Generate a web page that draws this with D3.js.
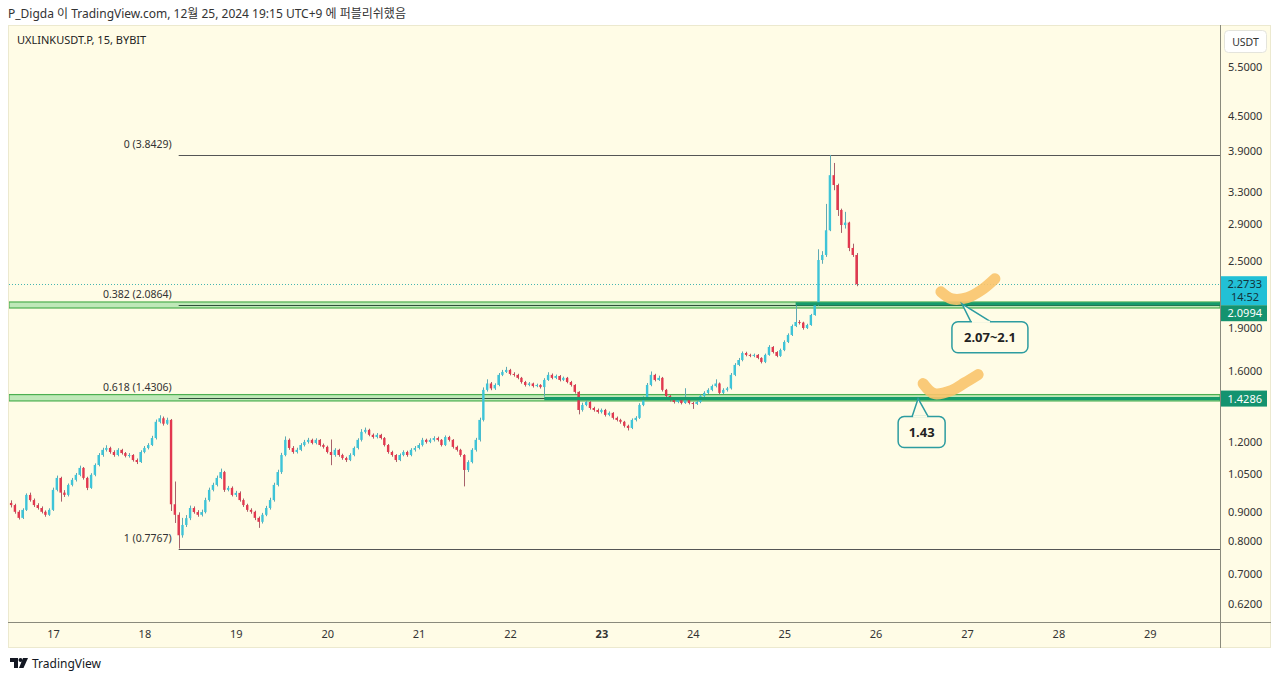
<!DOCTYPE html>
<html><head><meta charset="utf-8">
<script src="https://cdn.jsdelivr.net/npm/d3@7"></script>
<style>
body{margin:0;background:#fff;}
svg{display:block;font-family:"Noto Sans","Noto Sans CJK KR",sans-serif;}
</style>
</head><body>
<svg id="c" width="1280" height="681"></svg>
<script>
// ---------------- DATA ----------------
const startTime = Date.UTC(2024, 11, 16, 13); // first hourly candle
const firstOpen = 0.935;
const closes = [
0.927,0.902,0.880,0.909,0.966,0.946,0.927,0.916,0.902,0.891,
0.909,0.986,1.035,0.975,0.966,1.006,1.027,1.048,1.078,1.035,
0.994,1.048,1.091,1.136,1.160,1.169,1.150,1.136,1.160,1.145,
1.132,1.136,1.113,1.104,1.150,1.169,1.183,1.217,1.300,1.319,
1.290,1.310,0.930,0.891,0.820,0.855,0.879,0.916,0.901,0.891,
0.901,0.946,0.986,1.006,1.035,1.060,0.986,0.994,0.966,0.974,
0.946,0.927,0.909,0.902,0.880,0.866,0.891,0.916,0.946,1.006,
1.060,1.136,1.208,1.169,1.150,1.160,1.183,1.198,1.208,1.193,
1.208,1.183,1.174,1.150,1.136,1.160,1.136,1.122,1.113,1.136,
1.169,1.208,1.248,1.258,1.233,1.222,1.233,1.217,1.183,1.150,
1.136,1.113,1.136,1.150,1.136,1.160,1.169,1.183,1.208,1.198,
1.208,1.217,1.208,1.183,1.222,1.208,1.174,1.160,1.136,1.069,
1.104,1.160,1.208,1.310,1.480,1.519,1.489,1.510,1.573,1.592,
1.605,1.579,1.573,1.554,1.528,1.510,1.519,1.503,1.510,1.497,
1.541,1.573,1.554,1.566,1.541,1.554,1.528,1.510,1.468,1.364,
1.392,1.409,1.375,1.364,1.353,1.364,1.337,1.348,1.321,1.310,
1.300,1.279,1.268,1.310,1.321,1.392,1.432,1.510,1.573,1.541,
1.554,1.480,1.444,1.421,1.409,1.421,1.403,1.421,1.403,1.398,
1.409,1.444,1.462,1.480,1.503,1.519,1.462,1.480,1.489,1.573,
1.638,1.671,1.719,1.706,1.699,1.706,1.685,1.658,1.706,1.762,
1.726,1.699,1.740,1.798,1.850,1.918,1.950,1.945,1.903,1.926,
2.006,2.089,2.508,2.560,2.830,3.540,3.401,3.073,2.891,2.920,
2.634,2.560,2.2733];
const highs = [
0.945,0.932,0.908,0.915,0.972,0.975,0.952,0.934,0.922,0.907,
0.915,0.995,1.045,1.040,0.985,1.012,1.035,1.056,1.088,1.082,
1.040,1.055,1.098,1.145,1.170,1.182,1.175,1.158,1.168,1.165,
1.150,1.145,1.140,1.120,1.158,1.178,1.192,1.228,1.312,1.335,
1.328,1.322,1.315,1.020,0.900,0.880,0.890,0.925,0.922,0.908,
0.910,0.955,0.995,1.015,1.045,1.075,1.065,1.002,1.000,0.982,
0.980,0.952,0.932,0.915,0.906,0.885,0.898,0.924,0.955,1.015,
1.070,1.146,1.225,1.215,1.178,1.170,1.192,1.208,1.218,1.214,
1.216,1.212,1.190,1.180,1.210,1.168,1.165,1.142,1.128,1.144,
1.176,1.216,1.262,1.270,1.264,1.240,1.242,1.238,1.222,1.188,
1.156,1.140,1.143,1.158,1.156,1.168,1.178,1.192,1.218,1.214,
1.216,1.226,1.224,1.212,1.230,1.228,1.212,1.180,1.165,1.140,
1.112,1.168,1.218,1.322,1.495,1.545,1.528,1.520,1.585,1.605,
1.625,1.612,1.590,1.580,1.560,1.535,1.528,1.524,1.518,1.515,
1.552,1.590,1.582,1.575,1.572,1.562,1.560,1.535,1.515,1.472,
1.405,1.418,1.414,1.382,1.372,1.372,1.370,1.356,1.352,1.328,
1.316,1.305,1.285,1.318,1.330,1.402,1.442,1.522,1.595,1.580,
1.568,1.560,1.486,1.450,1.428,1.430,1.426,1.490,1.428,1.410,
1.418,1.452,1.472,1.490,1.512,1.545,1.525,1.490,1.498,1.585,
1.650,1.685,1.730,1.728,1.714,1.715,1.712,1.690,1.715,1.775,
1.768,1.732,1.750,1.810,1.862,1.930,2.100,1.965,1.952,1.936,
2.015,2.110,2.620,2.600,3.150,3.8429,3.720,3.420,3.090,3.050,
2.930,2.680,2.580];
const lows = [
0.918,0.895,0.874,0.876,0.905,0.940,0.920,0.910,0.896,0.884,
0.887,0.905,0.980,0.940,0.958,0.960,1.000,1.020,1.042,1.028,
0.985,0.990,1.042,1.085,1.128,1.152,1.142,1.128,1.130,1.138,
1.125,1.124,1.106,1.095,1.100,1.144,1.162,1.178,1.210,1.292,
1.280,1.284,0.905,0.862,0.7767,0.812,0.848,0.872,0.895,0.884,
0.885,0.896,0.940,0.980,1.000,1.030,0.978,0.980,0.960,0.958,
0.940,0.920,0.902,0.895,0.872,0.845,0.860,0.886,0.910,0.940,
1.000,1.052,1.130,1.160,1.142,1.143,1.154,1.176,1.190,1.186,
1.186,1.176,1.166,1.143,1.090,1.128,1.128,1.114,1.104,1.108,
1.130,1.162,1.200,1.240,1.226,1.214,1.215,1.210,1.176,1.142,
1.128,1.104,1.108,1.130,1.128,1.130,1.152,1.162,1.176,1.190,
1.192,1.200,1.200,1.176,1.178,1.200,1.166,1.152,1.128,1.000,
1.060,1.098,1.152,1.200,1.302,1.470,1.478,1.480,1.502,1.565,
1.585,1.570,1.562,1.545,1.518,1.500,1.502,1.494,1.496,1.488,
1.440,1.535,1.545,1.546,1.532,1.534,1.520,1.500,1.458,1.340,
1.355,1.385,1.366,1.355,1.344,1.345,1.328,1.330,1.312,1.302,
1.290,1.270,1.255,1.262,1.302,1.315,1.385,1.425,1.502,1.532,
1.535,1.470,1.435,1.412,1.400,1.402,1.395,1.398,1.395,1.370,
1.392,1.402,1.436,1.455,1.472,1.495,1.452,1.455,1.470,1.482,
1.565,1.630,1.662,1.696,1.690,1.690,1.676,1.648,1.650,1.700,
1.716,1.690,1.692,1.732,1.790,1.842,1.910,1.930,1.890,1.895,
1.920,2.000,2.080,2.470,2.540,2.820,3.330,3.000,2.800,2.850,
2.600,2.540,2.255];

const priceTicks = [5.5, 4.5, 3.9, 3.3, 2.9, 2.5, 1.9, 1.6, 1.2, 1.05, 0.9, 0.8, 0.7, 0.62];
const dayTicks = [17, 18, 19, 20, 21, 22, 23, 24, 25, 26, 27, 28, 29];
const boldDay = 23;
const fibRatios = ["0", "0.382", "0.618", "1"];
const fibPrices = [3.8429, 2.0864, 1.4306, 0.7767];
const fibAnchorCandle = 44;
const zoneLow = [2.064, 1.415];
const zoneHigh = [2.115, 1.452];
const rayPrices = [2.0994, 1.4286];
const rayStartCandle = [206, 140];
const lastPrice = 2.2733;
const countdown = "14:52";
const calloutTexts = ["2.07~2.1", "1.43"];
const calloutPrices = [2.0994, 1.4286];
const calloutTimes = [Date.UTC(2024, 11, 26, 22, 40), Date.UTC(2024, 11, 26, 11, 10)];
const headerText = "P_Digda 이 TradingView.com, 12월 25, 2024 19:15 UTC+9 에 퍼블리쉬했음";
const symbolText = "UXLINKUSDT.P, 15, BYBIT";
const currency = "USDT";

// ---------------- SCALES ----------------
const H = 3600e3;
const day17 = Date.UTC(2024, 11, 17);
const x = d3.scaleTime()
  .domain([new Date(day17 - 11.29 * H), new Date(day17 + 12.768 * 24 * H)])
  .range([10, 1220]);
const y = d3.scaleLog().domain([0.5765, 6.515]).range([622, 25]);

const candles = closes.map((c, i) => ({
  t: new Date(startTime + i * H),
  o: i === 0 ? firstOpen : closes[i - 1],
  h: highs[i], l: lows[i], c: c
}));

const svg = d3.select("#c");
const BG = "#fffce6";

// header
svg.append("text").attr("x", 8).attr("y", 18).attr("font-size", 12).attr("fill", "#333")
  .text(headerText);

// chart panel
svg.append("rect").attr("x", 8.5).attr("y", 25.5).attr("width", 1262).attr("height", 622)
  .attr("fill", BG).attr("stroke", "#ece9cf");

const plot = svg.append("g");
plot.append("clipPath").attr("id", "clip").append("rect")
  .attr("x", 9).attr("y", 26).attr("width", 1211).attr("height", 596);
const g = plot.append("g").attr("clip-path", "url(#clip)");

// green zones
zoneLow.forEach((lo, k) => {
  g.append("rect").attr("x", 9).attr("width", 1211)
    .attr("y", y(zoneHigh[k])).attr("height", y(lo) - y(zoneHigh[k]))
    .attr("fill", "#bfe8b8").attr("stroke", "#4caf50").attr("stroke-width", 1.2);
});

// fib lines
const fibX = x(candles[fibAnchorCandle].t);
fibPrices.forEach((p, k) => {
  const isZone = k === 1 || k === 2;
  g.append("line").attr("x1", fibX).attr("x2", 1220)
    .attr("y1", Math.round(y(p)) + 0.5).attr("y2", Math.round(y(p)) + 0.5)
    .attr("stroke", isZone ? "#2f4f3a" : "#555").attr("stroke-width", 1);
  svg.append("text").attr("x", fibX - 7).attr("y", y(p) - 7)
    .attr("text-anchor", "end").attr("font-size", 10.5).attr("fill", "#333")
    .text(`${fibRatios[k]} (${p.toFixed(4)})`);
});

// last price dotted line
g.append("line").attr("x1", 9).attr("x2", 1220)
  .attr("y1", Math.round(y(lastPrice)) + 0.5).attr("y2", Math.round(y(lastPrice)) + 0.5)
  .attr("stroke", "#45b5b0").attr("stroke-width", 1).attr("stroke-dasharray", "1,2");

// candles
const bw = 2.4;
const cg = g.append("g");
cg.selectAll("line.wick").data(candles).join("line").attr("class", "wick")
  .attr("x1", d => Math.round(x(d.t)) + 0.5).attr("x2", d => Math.round(x(d.t)) + 0.5)
  .attr("y1", d => y(d.h)).attr("y2", d => y(d.l))
  .attr("stroke", d => d.c >= d.o ? "#5fa9b3" : "#a8616b").attr("stroke-width", 1);
cg.selectAll("rect.body").data(candles).join("rect").attr("class", "body")
  .attr("x", d => x(d.t) - bw / 2).attr("width", bw)
  .attr("y", d => y(Math.max(d.o, d.c)))
  .attr("height", d => Math.max(1, Math.abs(y(d.o) - y(d.c))))
  .attr("fill", d => d.c >= d.o ? "#3ec4d8" : "#e2384f");

// horizontal rays
rayPrices.forEach((p, k) => {
  g.append("line").attr("x1", x(candles[rayStartCandle[k]].t)).attr("x2", 1220)
    .attr("y1", y(p)).attr("y2", y(p))
    .attr("stroke", "#169b6b").attr("stroke-width", 3.2);
});

// orange brush strokes (anchored on the callout points)
const brush = d3.line().curve(d3.curveCatmullRom);
calloutTimes.forEach((t, k) => {
  const ax = x(new Date(t)), ay = y(calloutPrices[k]);
  const pts = k === 0
    ? [[ax - 21, ay - 12], [ax - 10, ay - 5], [ax + 5, ay - 6], [ax + 20, ay - 14], [ax + 33, ay - 25]]
    : [[ax + 5, ay - 15], [ax + 16, ay - 5], [ax + 33, ay - 8], [ax + 47, ay - 16], [ax + 60, ay - 24]];
  g.append("path").attr("d", brush(pts)).attr("fill", "none")
    .attr("stroke", "#f9c46b").attr("stroke-opacity", 0.9)
    .attr("stroke-width", 11).attr("stroke-linecap", "round").attr("stroke-linejoin", "round");
});

// callouts
calloutTexts.forEach((txt, k) => {
  const ax = x(new Date(calloutTimes[k])), ay = y(calloutPrices[k]);
  const w = k === 0 ? 76 : 47, h = 31;
  const bx = k === 0 ? ax - 10 : ax - 20;
  const by = ay + 18;
  const l1 = k === 0 ? ax + 9 : ax - 6, l2 = k === 0 ? ax + 29 : ax + 10;
  const grp = svg.append("g");
  grp.append("path")
    .attr("d", `M${l1},${by} L${ax},${ay} L${l2},${by}`)
    .attr("fill", BG).attr("stroke", "#2d9ca0").attr("stroke-width", 1.5);
  grp.append("rect").attr("x", bx).attr("y", by).attr("width", w).attr("height", h).attr("rx", 6)
    .attr("fill", BG).attr("stroke", "#2d9ca0").attr("stroke-width", 1.5);
  grp.append("line").attr("x1", l1 + 1).attr("x2", l2 - 1).attr("y1", by).attr("y2", by)
    .attr("stroke", BG).attr("stroke-width", 2.2);
  grp.append("text").attr("x", bx + w / 2).attr("y", by + h / 2 + 4.5)
    .attr("text-anchor", "middle").attr("font-size", 13).attr("font-weight", "bold")
    .attr("fill", "#222").text(txt);
});

// axis frame lines
svg.append("line").attr("x1", 8).attr("x2", 1271).attr("y1", 622.5).attr("y2", 622.5)
  .attr("stroke", "#8a8a7c").attr("stroke-width", 1);
svg.append("line").attr("x1", 1220.5).attr("x2", 1220.5).attr("y1", 25).attr("y2", 648)
  .attr("stroke", "#8a8a7c").attr("stroke-width", 1);

// price axis
const yAxis = d3.axisRight(y).tickValues(priceTicks).tickFormat(d => d.toFixed(4)).tickSize(0).tickPadding(8);
const ya = svg.append("g").attr("transform", "translate(1220,0)").call(yAxis);
ya.select(".domain").remove();
ya.selectAll("text").attr("font-size", 11).attr("fill", "#333").attr("font-family", "Noto Sans, sans-serif");

// time axis
const xAxis = d3.axisBottom(x).tickValues(dayTicks.map(d => new Date(Date.UTC(2024, 11, d))))
  .tickFormat(d => d.getUTCDate()).tickSize(0).tickPadding(8);
const xa = svg.append("g").attr("transform", "translate(0,622)").call(xAxis);
xa.select(".domain").remove();
xa.selectAll("text").attr("font-size", 11).attr("fill", "#333").attr("font-family", "Noto Sans, sans-serif")
  .attr("font-weight", d => d.getUTCDate() === boldDay ? "bold" : "normal");

// price labels on axis
const lastY = y(lastPrice);
svg.append("rect").attr("x", 1221).attr("y", lastY - 8).attr("width", 46).attr("height", 29)
  .attr("fill", "#22c0d6");
svg.append("text").attr("x", 1262).attr("y", lastY + 4).attr("text-anchor", "end")
  .attr("font-size", 11).attr("fill", "#13343b").text(lastPrice.toFixed(4));
svg.append("text").attr("x", 1259).attr("y", lastY + 17).attr("text-anchor", "end")
  .attr("font-size", 11).attr("fill", "#13343b").text(countdown);
const r1 = lastY + 21;
svg.append("rect").attr("x", 1221).attr("y", r1).attr("width", 46).attr("height", 16).attr("fill", "#14936f");
svg.append("text").attr("x", 1262).attr("y", r1 + 12).attr("text-anchor", "end")
  .attr("font-size", 11).attr("fill", "#fff").text(rayPrices[0].toFixed(4));
const r2 = y(rayPrices[1]);
svg.append("rect").attr("x", 1221).attr("y", r2 - 8).attr("width", 46).attr("height", 16).attr("fill", "#14936f");
svg.append("text").attr("x", 1262).attr("y", r2 + 4).attr("text-anchor", "end")
  .attr("font-size", 11).attr("fill", "#fff").text(rayPrices[1].toFixed(4));

// currency box
svg.append("rect").attr("x", 1224.5).attr("y", 30.5).attr("width", 42).attr("height", 22).attr("rx", 4)
  .attr("fill", "#fff").attr("stroke", "#e4e4dc");
svg.append("text").attr("x", 1245.5).attr("y", 45.5).attr("text-anchor", "middle")
  .attr("font-size", 10.5).attr("fill", "#333").text(currency);

// symbol title
svg.append("text").attr("x", 17).attr("y", 44).attr("font-size", 11).attr("fill", "#222").text(symbolText);

// TradingView logo
const logo = svg.append("g").attr("fill", "#131722");
logo.append("path").attr("d", "M10,658 h8 v10 h-4 v-6 h-4 z");
logo.append("circle").attr("cx", 20.5).attr("cy", 660).attr("r", 2);
logo.append("path").attr("d", "M23,658 h5 l-4.5,10 h-4.5 z");
svg.append("text").attr("x", 32).attr("y", 668).attr("font-size", 12).attr("fill", "#131722").text("TradingView");
</script>
</body></html>
